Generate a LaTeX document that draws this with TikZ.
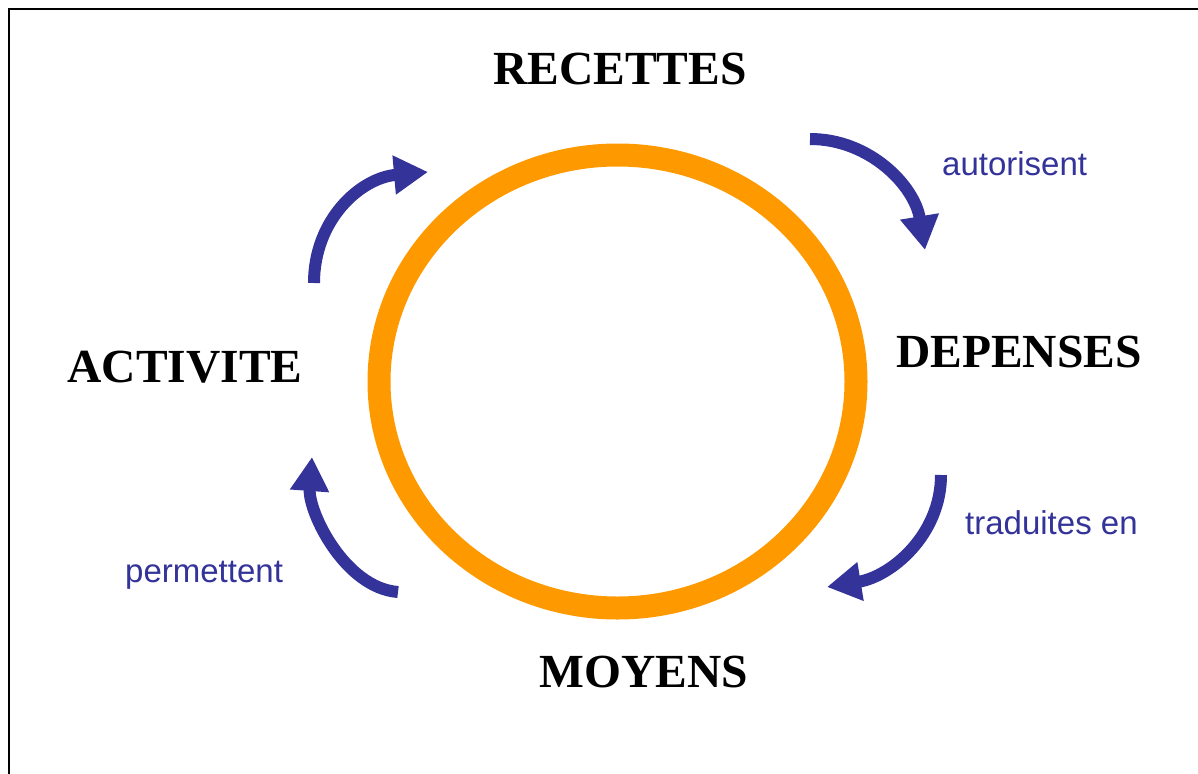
\documentclass[tikz,border=0pt]{standalone}
\usepackage{fontspec}
\setmainfont{Liberation Serif}
\newfontfamily\arialfont{Liberation Sans}
\usetikzlibrary{arrows.meta}
\definecolor{ringorange}{HTML}{FF9900}
\definecolor{arrowblue}{HTML}{333399}
\begin{document}
\begin{tikzpicture}[x=1pt,y=-1pt,
  bigword/.style={inner sep=0pt,anchor=base,font=\bfseries\fontsize{47.5}{50}\selectfont,text=black},
  smallword/.style={inner sep=0pt,anchor=base west,font=\arialfont\fontsize{33}{36}\selectfont,text=arrowblue},
  cyclearrow/.style={draw=arrowblue,line width=12pt,-{Triangle[length=34pt,width=37pt]}}]
\useasboundingbox (0,0) rectangle (1198,773);
\fill[white] (0,0) rectangle (1198,773);
% frame
\coordinate (fbl) at (9,775);
\coordinate (ftl) at (9,9);
\coordinate (ftr) at (1200,9);
\draw[line width=2pt,black] (fbl) -- (ftl) -- (ftr);
% ring
\coordinate (ringc) at (617.5,381.5);
\draw[ringorange,line width=23pt] (ringc) ellipse [x radius=238.5pt, y radius=226.5pt];
% labels
\node[bigword] (recettes) at (620,85) {RECETTES};
\node[bigword] (depenses) at (1019,367) {DEPENSES};
\node[bigword] (moyens) at (643.5,687) {MOYENS};
\node[bigword] (activite) at (185,382) {ACTIVITE};
\node[smallword] (autorisent) at (942,175) {autorisent};
\node[smallword] (traduites) at (965,534) {traduites en};
\node[smallword] (permettent) at (125,582) {permettent};
% arrows
\coordinate (a1s) at (314,283); \coordinate (a1e) at (428,172);
\coordinate (a2s) at (810,139); \coordinate (a2e) at (925,250);
\coordinate (a3s) at (941,475); \coordinate (a3e) at (827,587);
\coordinate (a4s) at (398,592); \coordinate (a4e) at (312,457);
\draw[cyclearrow] (a1s) .. controls (314,220) and (360,178) .. (a1e);
\draw[cyclearrow] (a2s) .. controls (870,139) and (914.5,186) .. (a2e);
\draw[cyclearrow] (a3s) .. controls (941,535) and (891,576.5) .. (a3e);
\draw[cyclearrow] (a4s) .. controls (345,588) and (308,512) .. (a4e);
\end{tikzpicture}
\end{document}
